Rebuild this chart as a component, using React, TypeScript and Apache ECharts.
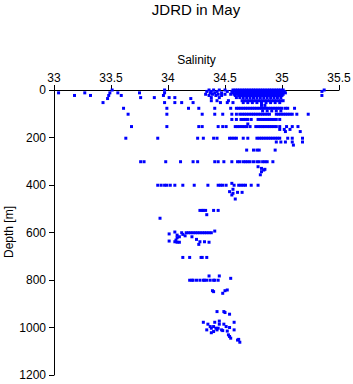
import React, { useEffect, useRef } from "react";
import * as echarts from "echarts";

const titleText = "JDRD in May";
const xName = "Salinity";
const yName = "Depth [m]";
const xTicks = [33, 33.5, 34, 34.5, 35, 35.5];
const yTicks = [0, 200, 400, 600, 800, 1000, 1200];

// Rows: [depth, salinities observed at that depth]
const surfaceRows: [number, number[]][] = [
  [0, [33.51, 33.97, 34.36, 34.40, 34.45, 34.50, 34.57, 34.59, 34.61, 34.63, 34.65, 34.67, 34.69, 34.71, 34.73, 34.75, 34.77, 34.79, 34.81, 34.83, 34.85, 34.87, 34.89, 34.91, 34.93, 34.95, 34.97, 34.99, 35.01, 35.37]],
  [6, [34.34, 34.38, 34.43, 34.52, 34.56, 34.58, 34.60, 34.62, 34.64, 34.66, 34.68, 34.70, 34.72, 34.74, 34.76, 34.78, 34.80, 34.82, 34.84, 34.86, 34.88, 34.90, 34.92, 34.94, 34.96, 34.98, 35.00, 35.02, 35.35]],
  [12, [33.04, 33.27, 33.49, 33.56, 33.75, 33.97, 34.37, 34.41, 34.47, 34.57, 34.60, 34.62, 34.64, 34.66, 34.68, 34.70, 34.72, 34.74, 34.76, 34.78, 34.80, 34.82, 34.84, 34.86, 34.88, 34.90, 34.92, 34.94, 34.96, 34.98, 35.00, 35.03]],
  [18, [34.33, 34.39, 34.44, 34.50, 34.55, 34.58, 34.61, 34.63, 34.65, 34.67, 34.69, 34.71, 34.73, 34.75, 34.77, 34.79, 34.81, 34.83, 34.85, 34.87, 34.89, 34.91, 34.93, 34.95, 34.97, 34.99, 35.01]],
  [23, [33.18, 33.32, 33.48, 33.59, 33.96, 34.36, 34.42, 34.47, 34.59, 34.62, 34.64, 34.66, 34.68, 34.70, 34.72, 34.74, 34.76, 34.78, 34.80, 34.82, 34.84, 34.86, 34.88, 34.90, 34.92, 34.94, 34.96, 34.98, 35.00, 35.35]],
  [32, [33.76, 33.88, 34.01, 34.06, 34.38, 34.45, 34.60, 34.63, 34.66, 34.69, 34.72, 34.75, 34.78, 34.81, 34.84, 34.87, 34.90, 34.93, 34.96, 34.99]],
  [36, [33.47, 34.20]],
  [45, [34.38, 34.43, 34.53, 34.65, 34.67, 34.69, 34.71, 34.73, 34.75, 34.77, 34.79, 34.81, 34.83, 34.85, 34.87, 34.89, 34.91, 34.93, 34.95, 34.97, 34.99, 35.01]],
  [53, [33.43, 33.97, 34.06, 34.12, 34.22, 34.46, 34.52, 34.57, 34.66, 34.70, 34.74, 34.78, 34.82, 34.86, 34.90, 34.94, 34.98]],
  [65, [34.82, 34.85]],
];

const upperRows: [number, number[]][] = [
  [77, [33.61, 33.99, 34.18, 34.27, 34.41, 34.55, 34.60, 34.62, 34.64, 34.66, 34.68, 34.70, 34.72, 34.74, 34.76, 34.78, 34.80, 34.82, 34.84, 34.86, 34.88, 34.90, 34.92, 34.94, 34.96, 34.98, 35.00, 35.03, 35.05, 35.11]],
  [88, [34.83, 34.87, 34.91, 34.95, 34.99]],
  [102, [33.65, 33.99, 34.30, 34.41, 34.48, 34.56, 34.60, 34.63, 34.65, 34.67, 34.69, 34.71, 34.73, 34.75, 34.77, 34.79, 34.81, 34.83, 34.85, 34.87, 34.89, 34.95, 34.97, 34.99, 35.01, 35.03, 35.05, 35.07, 35.09, 35.13, 35.23]],
  [124, [34.56, 34.60, 34.64, 34.66, 34.68, 34.70, 34.73, 34.79, 34.81, 34.83, 34.85, 34.87, 34.89, 34.91, 34.93, 34.95, 34.98]],
  [143, [34.70]],
  [154, [33.68, 33.99, 34.27, 34.30, 34.44, 34.48, 34.51, 34.59, 34.61, 34.63, 34.65, 34.67, 34.69, 34.72, 34.77, 34.79, 34.81, 34.83, 34.85, 34.87, 34.89, 34.91, 34.93, 34.95, 34.98, 35.04, 35.09, 35.14]],
  [166, [34.98, 35.02, 35.07]],
  [175, [35.03, 35.16]],
  [203, [33.63, 33.91, 34.26, 34.31, 34.40, 34.43, 34.54, 34.56, 34.58, 34.60, 34.66, 34.70, 34.78, 34.80, 34.82, 34.84, 34.86, 34.88, 34.90, 34.92, 34.94, 34.96, 34.98, 35.05, 35.09, 35.18]],
  [219, [34.95, 34.99, 35.03, 35.09, 35.18]],
  [232, [35.10]],
  [253, [34.69, 34.75, 34.78, 34.80, 34.94]],
];

const middleRows: [number, number[]][] = [
  [302, [33.76, 33.79, 33.98, 34.11, 34.22, 34.26, 34.41, 34.44, 34.49, 34.56, 34.61, 34.63, 34.66, 34.68, 34.70, 34.72, 34.75, 34.78, 34.80, 34.83, 34.85, 34.87, 34.92]],
  [401, [33.91, 33.94, 33.97, 33.99, 34.02, 34.06, 34.13, 34.23, 34.35, 34.44, 34.46, 34.48, 34.51, 34.58, 34.62, 34.64, 34.66, 34.68, 34.73, 34.79]],
  [507, [34.28, 34.30, 34.31, 34.33, 34.40, 34.44]],
  [601, [34.12, 34.16, 34.18, 34.20, 34.22, 34.24, 34.26, 34.28, 34.30, 34.32, 34.34, 34.36, 34.38]],
  [705, [34.13, 34.19, 34.29, 34.30, 34.34]],
  [801, [34.19, 34.21, 34.22, 34.25, 34.28, 34.31, 34.32, 34.34, 34.37, 34.40, 34.41, 34.44]],
];

// Scattered single observations: [salinity, depth]
const scatterPoints: [number, number][] = [
  [34.79, 323], [34.82, 330], [34.84, 337], [34.85, 334], [34.82, 344], [34.81, 357],
  [34.56, 393], [34.57, 418], [34.54, 428], [34.57, 435], [34.56, 442], [34.61, 431], [34.65, 431], [34.59, 459],
  [34.34, 525], [33.93, 540],
  [34.01, 606], [34.06, 598], [34.08, 611], [34.41, 594], [34.13, 608], [34.15, 614], [34.21, 618],
  [34.08, 622], [34.10, 618], [34.07, 632], [34.06, 639], [34.08, 641], [34.10, 641], [34.01, 636],
  [34.25, 629], [34.28, 639], [34.27, 650], [34.32, 639], [34.36, 641],
];

const deepPoints: [number, number][] = [
  [34.36, 783], [34.45, 783], [34.55, 793], [34.39, 845], [34.40, 849], [34.48, 856], [34.50, 845], [34.52, 842],
  [34.43, 933], [34.49, 933], [34.50, 937], [34.54, 944],
  [34.31, 978], [34.35, 986], [34.37, 996], [34.38, 1003], [34.34, 1010], [34.41, 978], [34.45, 973],
  [34.49, 986], [34.51, 996], [34.54, 1000], [34.58, 978], [34.58, 1010], [34.40, 996], [34.42, 1003],
  [34.44, 1003], [34.47, 1010], [34.48, 1013], [34.45, 986], [34.38, 1022], [34.40, 1017], [34.43, 1010],
  [34.52, 1015], [34.53, 1031], [34.54, 1038], [34.55, 1045], [34.62, 1050], [34.61, 1053], [34.63, 1062],
];

function rowsToPoints(rows: [number, number[]][]): [number, number][] {
  const out: [number, number][] = [];
  rows.forEach(([d, sals]) => sals.forEach((s) => out.push([s, d])));
  return out;
}

export default function App() {
  const ref = useRef<HTMLDivElement>(null);
  useEffect(() => {
    if (!ref.current) return;
    const chart = echarts.init(ref.current, null, { renderer: "svg" });
    const data = [
      ...rowsToPoints(surfaceRows),
      ...rowsToPoints(upperRows),
      ...rowsToPoints(middleRows),
      ...scatterPoints,
      ...deepPoints,
    ];
    const font = "'Liberation Sans', Arial, sans-serif";
    chart.setOption({
      animation: false,
      backgroundColor: "#ffffff",
      textStyle: { fontFamily: font },
      graphic: [
        {
          type: "text",
          x: 196,
          y: 2,
          style: {
            text: titleText,
            align: "center",
            verticalAlign: "top",
            fontSize: 15,
            fontFamily: font,
            fill: "#000",
          },
        },
        {
          type: "text",
          x: 9,
          y: 232,
          rotation: Math.PI / 2,
          style: {
            text: yName,
            align: "center",
            verticalAlign: "middle",
            fontSize: 12,
            fontFamily: font,
            fill: "#000",
          },
        },
      ],
      grid: { left: 54, top: 90, width: 285, height: 285, outerBoundsMode: "none", containLabel: false },
      xAxis: {
        type: "value",
        position: "top",
        min: xTicks[0],
        max: xTicks[xTicks.length - 1],
        interval: 0.5,
        name: xName,
        nameLocation: "middle",
        nameGap: 24,
        nameTextStyle: { color: "#000", fontSize: 12, fontFamily: font },
        axisLine: { show: true, lineStyle: { color: "#000", width: 1 } },
        axisTick: { show: true, length: 5, lineStyle: { color: "#000" } },
        axisLabel: { color: "#000", fontSize: 12, fontFamily: font, margin: 6, formatter: (v: number) => String(v) },
        splitLine: { show: false },
      },
      yAxis: {
        type: "value",
        inverse: true,
        min: yTicks[0],
        max: yTicks[yTicks.length - 1],
        interval: 200,
        axisLine: { show: true, lineStyle: { color: "#000", width: 1 } },
        axisTick: { show: true, length: 5, lineStyle: { color: "#000" } },
        axisLabel: { color: "#000", fontSize: 12, fontFamily: font, margin: 8, formatter: (v: number) => String(v) },
        splitLine: { show: false },
      },
      series: [
        {
          type: "scatter",
          data,
          symbol: "rect",
          symbolSize: 3,
          itemStyle: { color: "#0000ff", opacity: 1 },
        },
      ],
    });
    return () => chart.dispose();
  }, []);
  return <div ref={ref} style={{ position: "absolute", left: 0, top: 0, width: 353, height: 384 }} />;
}
